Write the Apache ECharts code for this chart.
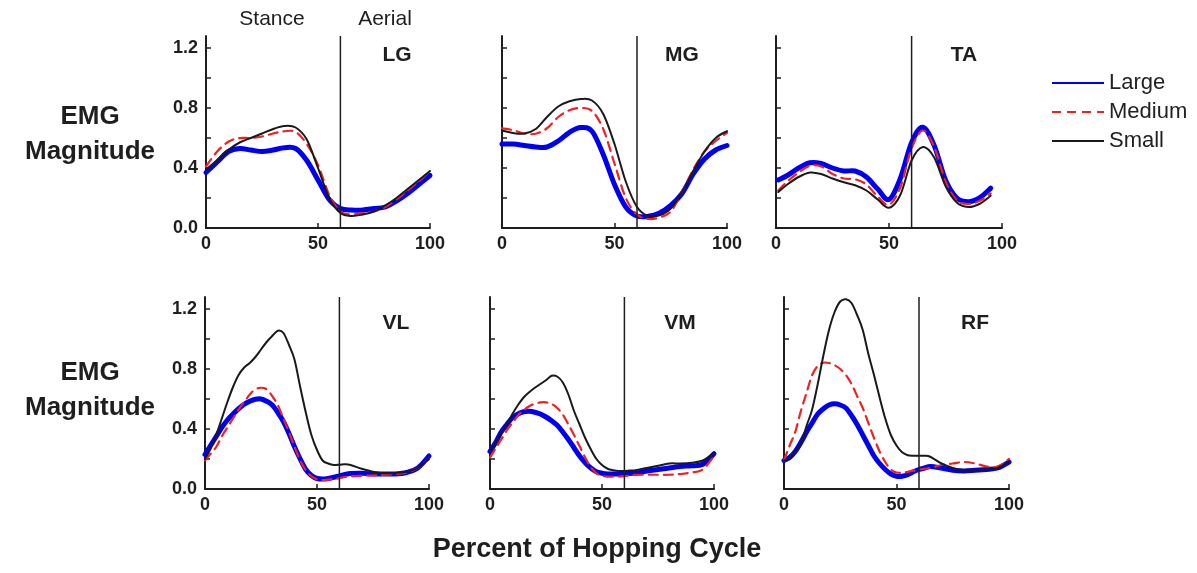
<!DOCTYPE html>
<html><head><meta charset="utf-8">
<script src="https://cdn.jsdelivr.net/npm/echarts@6/dist/echarts.min.js"></script>
<style>html,body{margin:0;padding:0;background:#fff}#c{width:1197px;height:573px}</style>
</head><body><div id="c"></div>
<script>
// ---- data ----
const pct     = [0,5,10,15,20,25,30,35,40,45,50,55,60,65,70,75,80,85,90,95,100];
const pctFine = [0,2.5,5,7.5,10,12.5,15,17.5,20,22.5,25,27.5,30,32.5,35,37.5,40,42.5,45,47.5,50,52.5,55,57.5,60,62.5,65,70,75,80,85,90,95,100];
const taPct   = [1,5,10,15,20,25,30,35,40,45,50,55,60,65,70,75,80,85,90,95];
const yTicks = [0,0.2,0.4,0.6,0.8,1.0,1.2];
const yTickLabels = [0,0.4,0.8,1.2];
const xTickLabels = [0,50,100];
const transition = 60;
const seriesNames = ['Large','Medium','Small'];
const muscles = ['LG','MG','TA','VL','VM','RF'];

const lgLarge  = [0.37,0.44,0.51,0.53,0.52,0.51,0.52,0.535,0.53,0.45,0.32,0.19,0.13,0.12,0.12,0.13,0.14,0.18,0.23,0.29,0.35];
const lgMedium = [0.41,0.51,0.575,0.60,0.60,0.61,0.63,0.645,0.64,0.56,0.42,0.22,0.11,0.09,0.10,0.11,0.14,0.19,0.25,0.31,0.38];
const lgSmall  = [0.39,0.45,0.52,0.57,0.60,0.63,0.66,0.68,0.67,0.59,0.40,0.20,0.10,0.08,0.09,0.11,0.15,0.20,0.26,0.32,0.38];

const mgLarge  = [0.56,0.56,0.55,0.54,0.54,0.58,0.638,0.67,0.645,0.49,0.29,0.14,0.08,0.078,0.10,0.15,0.23,0.36,0.46,0.52,0.55];
const mgMedium = [0.664,0.652,0.63,0.628,0.665,0.74,0.785,0.80,0.78,0.66,0.43,0.20,0.09,0.06,0.07,0.11,0.24,0.39,0.51,0.58,0.635];
const mgSmall  = [0.65,0.633,0.63,0.66,0.74,0.81,0.845,0.86,0.85,0.76,0.56,0.31,0.14,0.08,0.085,0.13,0.24,0.38,0.51,0.60,0.646];

const taLarge  = [0.32,0.35,0.40,0.435,0.43,0.40,0.38,0.38,0.34,0.26,0.19,0.33,0.57,0.672,0.55,0.32,0.20,0.175,0.20,0.265];
const taMedium = [0.25,0.31,0.37,0.415,0.41,0.36,0.33,0.325,0.29,0.21,0.155,0.27,0.53,0.65,0.54,0.31,0.185,0.16,0.18,0.23];
const taSmall  = [0.24,0.29,0.34,0.37,0.36,0.33,0.305,0.285,0.25,0.19,0.135,0.22,0.45,0.54,0.47,0.28,0.17,0.14,0.16,0.215];

const vlLarge  = [0.23,0.29,0.35,0.41,0.46,0.50,0.535,0.565,0.585,0.598,0.60,0.585,0.56,0.51,0.45,0.37,0.28,0.20,0.13,0.09,0.07,0.066,0.07,0.078,0.088,0.097,0.103,0.105,0.10,0.10,0.10,0.11,0.14,0.22];
const vlMedium = [0.19,0.235,0.28,0.35,0.41,0.47,0.53,0.58,0.63,0.665,0.675,0.665,0.62,0.56,0.47,0.38,0.28,0.19,0.125,0.085,0.065,0.06,0.062,0.066,0.072,0.08,0.085,0.088,0.09,0.095,0.10,0.11,0.14,0.20];
const vlSmall  = [0.20,0.27,0.36,0.47,0.58,0.68,0.76,0.81,0.84,0.88,0.93,0.98,1.02,1.055,1.04,0.96,0.86,0.68,0.51,0.36,0.26,0.19,0.17,0.16,0.162,0.165,0.16,0.135,0.115,0.105,0.107,0.115,0.14,0.20];

const vmLarge  = [0.25,0.31,0.38,0.43,0.475,0.50,0.515,0.518,0.512,0.50,0.48,0.455,0.425,0.38,0.33,0.275,0.22,0.175,0.14,0.115,0.105,0.10,0.10,0.10,0.102,0.104,0.106,0.12,0.13,0.14,0.15,0.155,0.165,0.235];
const vmMedium = [0.21,0.27,0.33,0.39,0.44,0.49,0.525,0.552,0.568,0.577,0.578,0.567,0.54,0.496,0.43,0.36,0.285,0.21,0.145,0.105,0.088,0.082,0.082,0.083,0.086,0.09,0.094,0.095,0.095,0.095,0.10,0.11,0.13,0.22];
const vmSmall  = [0.25,0.31,0.37,0.43,0.50,0.56,0.61,0.645,0.675,0.70,0.725,0.755,0.75,0.71,0.63,0.52,0.43,0.34,0.265,0.20,0.16,0.135,0.125,0.12,0.12,0.123,0.125,0.14,0.155,0.17,0.17,0.175,0.19,0.24];

const rfLarge  = [0.19,0.21,0.25,0.31,0.38,0.44,0.50,0.535,0.56,0.568,0.56,0.54,0.49,0.43,0.36,0.29,0.22,0.17,0.13,0.10,0.085,0.085,0.095,0.115,0.13,0.14,0.15,0.14,0.125,0.12,0.125,0.13,0.14,0.18];
const rfMedium = [0.19,0.29,0.38,0.52,0.64,0.76,0.82,0.842,0.84,0.825,0.80,0.76,0.70,0.62,0.54,0.44,0.34,0.25,0.18,0.13,0.11,0.108,0.115,0.122,0.13,0.135,0.14,0.16,0.17,0.18,0.17,0.15,0.15,0.20];
const rfSmall  = [0.19,0.20,0.25,0.30,0.42,0.53,0.70,0.89,1.06,1.18,1.25,1.265,1.24,1.16,1.06,0.90,0.76,0.61,0.47,0.36,0.29,0.245,0.225,0.222,0.222,0.222,0.215,0.17,0.14,0.125,0.125,0.13,0.14,0.185];

const panelX = [pct, pct, taPct, pctFine, pctFine, pctFine];
const panelY = [
  [lgLarge, lgMedium, lgSmall],
  [mgLarge, mgMedium, mgSmall],
  [taLarge, taMedium, taSmall],
  [vlLarge, vlMedium, vlSmall],
  [vmLarge, vmMedium, vmSmall],
  [rfLarge, rfMedium, rfSmall]
];

// ---- layout / style ----
const FONT = '"Liberation Sans", Arial, sans-serif';
const AX = '#1e1e1e';
const YMAX = 1.28;
const grids = [
  {left:206, top:36,  width:224, height:192},
  {left:502, top:36,  width:225, height:192},
  {left:776, top:36,  width:226, height:192},
  {left:205, top:297, width:224, height:192},
  {left:490, top:297, width:224, height:192},
  {left:784, top:297, width:225, height:192}
];
const styles = [
  {color:'#0000f0', width:5, dash:null, type:'solid'},
  {color:'#ee2222', width:2.2, dash:[9,6], type:[9,6]},
  {color:'#1a1a1a', width:2, dash:null, type:'solid'}
];

// Catmull-Rom spline through pixel points produced by the axes
function splinePath(p) {
  let d = 'M' + p[0][0] + ' ' + p[0][1];
  for (let i = 0; i < p.length - 1; i++) {
    const p0 = p[Math.max(i - 1, 0)], p1 = p[i], p2 = p[i + 1], p3 = p[Math.min(i + 2, p.length - 1)];
    const c1x = p1[0] + (p2[0] - p0[0]) / 6, c1y = p1[1] + (p2[1] - p0[1]) / 6;
    const c2x = p2[0] - (p3[0] - p1[0]) / 6, c2y = p2[1] - (p3[1] - p1[1]) / 6;
    d += ' C' + c1x + ' ' + c1y + ' ' + c2x + ' ' + c2y + ' ' + p2[0] + ' ' + p2[1];
  }
  return d;
}

const xAxes = [], yAxes = [], series = [];
// legend helpers (no data) so the legend shows line samples
seriesNames.forEach((n, s) => series.push({
  name:n, type:'line', xAxisIndex:0, yAxisIndex:0, data:[], symbol:'none',
  lineStyle:{color:styles[s].color, width:styles[s].width, type:styles[s].type},
  itemStyle:{color:styles[s].color}
}));

grids.forEach((g, i) => {
  xAxes.push({
    type:'value', gridIndex:i, min:0, max:100,
    axisLine:{show:true, onZero:false, lineStyle:{color:AX, width:2}},
    axisTick:{show:true, inside:true, length:5, customValues:xTickLabels, lineStyle:{color:AX, width:1.5}},
    axisLabel:{show:true, customValues:xTickLabels, margin:7, fontFamily:FONT, fontWeight:'bold', fontSize:18, color:AX},
    splitLine:{show:false}
  });
  yAxes.push({
    type:'value', gridIndex:i, min:0, max:YMAX,
    axisLine:{show:true, lineStyle:{color:AX, width:2}},
    axisTick:{show:true, inside:true, length:5, customValues:yTicks, lineStyle:{color:AX, width:1.5}},
    axisLabel:{show:(i % 3 === 0), customValues:yTickLabels, margin:8, formatter:v => Number(v).toFixed(1),
      fontFamily:FONT, fontWeight:'bold', fontSize:18, color:AX},
    splitLine:{show:false}
  });
  const xs = panelX[i];
  panelY[i].forEach((ys, s) => {
    const st = styles[s];
    series.push({
      name: seriesNames[s], type:'custom', xAxisIndex:i, yAxisIndex:i, silent:true, z: 2 + s,
      data: xs.map((x, k) => [x, ys[k]]),
      encode:{x:0, y:1},
      renderItem: function (params, api) {
        if (params.dataIndex !== 0) return null;
        const pts = xs.map((x, k) => api.coord([x, ys[k]]));
        const children = [{
          type:'path', shape:{pathData: splinePath(pts)},
          style:{fill:null, stroke:st.color, lineWidth:st.width, lineDash:st.dash, lineCap:'round', lineJoin:'round'}
        }];
        if (s === 2) {
          const a = api.coord([transition, 0]), b = api.coord([transition, YMAX]);
          children.push({type:'line', shape:{x1:a[0], y1:a[1], x2:b[0], y2:b[1]}, style:{stroke:AX, lineWidth:1.5}});
        }
        return {type:'group', children:children};
      }
    });
  });
});

function txt(t, x, y, font) {
  return {type:'text', x:x, y:y, style:{text:t, font:font, fill:'#1e1e1e', align:'center', verticalAlign:'middle'}};
}
const labelPos = [[397,55],[682,55],[964,55],[396,323],[680,323],[975,323]];
const graphic = [];
muscles.forEach((m, i) => graphic.push(txt(m, labelPos[i][0], labelPos[i][1], 'bold 21px ' + FONT)));
graphic.push(txt('EMG', 90, 117, 'bold 26px ' + FONT));
graphic.push(txt('Magnitude', 90, 152, 'bold 26px ' + FONT));
graphic.push(txt('EMG', 90, 373, 'bold 26px ' + FONT));
graphic.push(txt('Magnitude', 90, 408, 'bold 26px ' + FONT));
graphic.push(txt('Stance', 272, 19, '21px ' + FONT));
graphic.push(txt('Aerial', 385, 19, '21px ' + FONT));
graphic.push(txt('Percent of Hopping Cycle', 597, 550, 'bold 27px ' + FONT));

const chart = echarts.init(document.getElementById('c'), null, {renderer:'canvas'});
chart.setOption({
  animation:false,
  backgroundColor:'#fff',
  grid: grids,
  xAxis: xAxes,
  yAxis: yAxes,
  legend: {
    data: seriesNames, orient:'vertical', left:1046, top:67,
    itemWidth:52, itemHeight:22, itemGap:7,
    itemStyle:{opacity:0},
    textStyle:{fontFamily:FONT, fontSize:22, color:'#222'},
    selectedMode:false
  },
  graphic: graphic,
  series: series
});
</script>
</body></html>
